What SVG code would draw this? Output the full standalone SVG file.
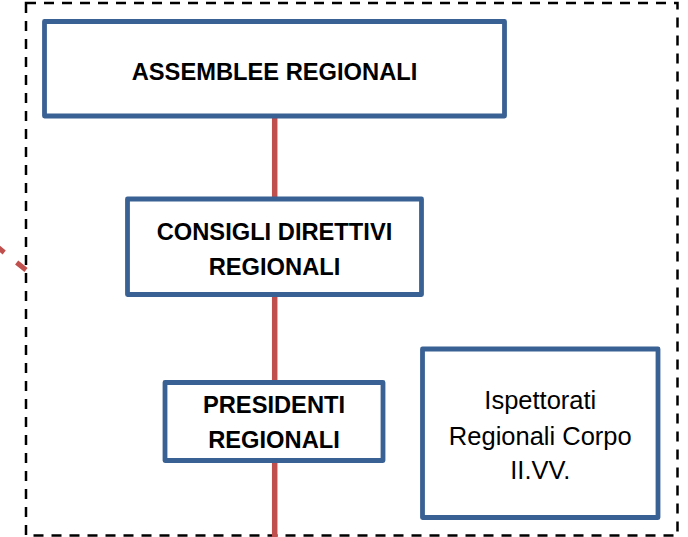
<svg xmlns="http://www.w3.org/2000/svg" width="688" height="537" viewBox="0 0 688 537">
<style>
.box{fill:#fff;stroke:#3A6194;stroke-width:4.8;stroke-linejoin:round}
.b{font-family:"Liberation Sans",Arial,sans-serif;font-weight:bold;font-size:23.7px;fill:#000;text-anchor:middle}
.r{font-family:"Liberation Sans",Arial,sans-serif;font-size:25.5px;fill:#000;text-anchor:middle}
.link{stroke:#C0504D;stroke-width:5.5;fill:none}
</style>
<rect x="0" y="0" width="688" height="537" fill="#fff"/>
<g id="boundary">
<rect x="26" y="3" width="651.5" height="532.5" fill="none" stroke="#000" stroke-width="2.5" stroke-dasharray="10 8"/>
</g>
<g id="connectors">
<line class="link" x1="274.7" y1="117" x2="274.7" y2="197"/>
<line class="link" x1="274.7" y1="296" x2="274.7" y2="381"/>
<line class="link" x1="274.7" y1="462" x2="274.7" y2="537"/>
<path d="M26,270 L-10,241" stroke="#C0504D" stroke-width="5" fill="none" stroke-dasharray="12 16"/>
</g>
<g id="assemblee">
<rect class="box" x="44.5" y="21.5" width="460" height="94.5"/>
<text class="b" x="274.5" y="80">ASSEMBLEE REGIONALI</text>
</g>
<g id="consigli">
<rect class="box" x="127.5" y="199" width="294" height="95.5"/>
<text class="b" x="274.5" y="240">CONSIGLI DIRETTIVI</text>
<text class="b" x="274.5" y="275">REGIONALI</text>
</g>
<g id="presidenti">
<rect class="box" x="165" y="382.5" width="218" height="78"/>
<text class="b" x="274" y="413">PRESIDENTI</text>
<text class="b" x="274" y="448">REGIONALI</text>
</g>
<g id="ispettorati">
<rect class="box" x="422.5" y="349" width="235.5" height="168.5"/>
<text class="r" x="540.3" y="409">Ispettorati</text>
<text class="r" x="540.3" y="445">Regionali Corpo</text>
<text class="r" x="540.3" y="479">II.VV.</text>
</g>
</svg>
